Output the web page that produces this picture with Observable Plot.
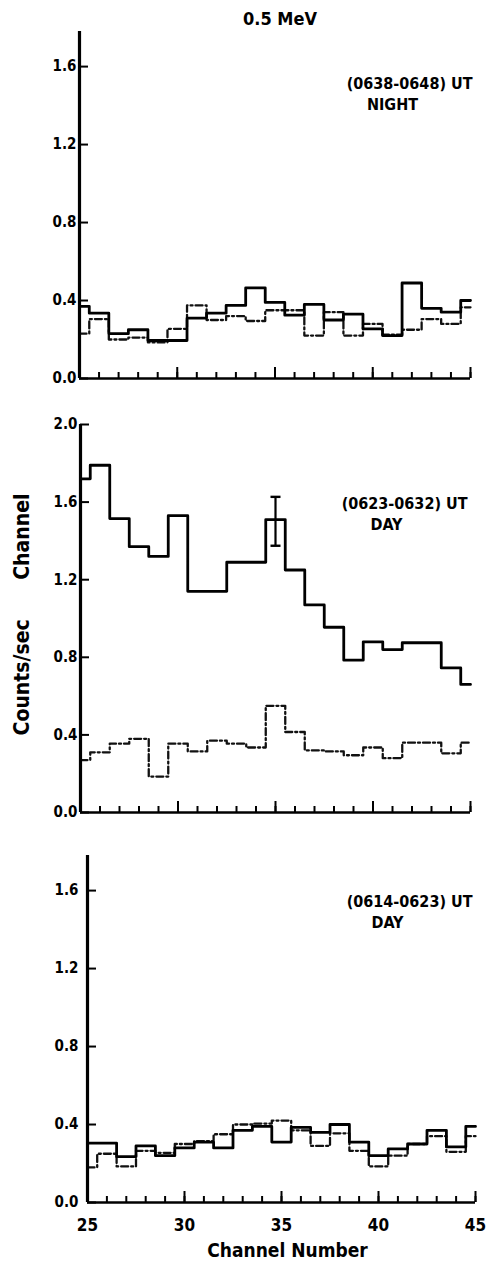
<!DOCTYPE html>
<html>
<head>
<meta charset="utf-8">
<script src="https://cdn.jsdelivr.net/npm/d3@7"></script>
<script src="https://cdn.jsdelivr.net/npm/@observablehq/plot@0.6"></script>
<style>
  body { margin: 0; background: #fff; }
  #wrap { position: relative; width: 493px; height: 1278px; overflow: hidden; background: #fff;
          font-family: "DejaVu Sans Condensed", "DejaVu Sans", sans-serif; font-weight: bold; color: #000; }
  .panel { position: absolute; left: 0; z-index: 1; }
  #title { position: absolute; left: 280px; top: 8px; transform: translateX(-50%); font-size: 18px; white-space: nowrap; z-index: 5; }
</style>
</head>
<body>
<div id="wrap"><div id="title"></div></div>
<script>
// ---- data ----
const titleText = "0.5 MeV";
const yAxisLabel = "Counts/sec\u00a0\u00a0\u00a0\u00a0\u00a0\u00a0Channel";
const xAxisLabel = "Channel Number";
const channels = [25,26,27,28,29,30,31,32,33,34,35,36,37,38,39,40,41,42,43,44,45];
const majorChannels = [30,35,40,45];
const xTickLabels = [25,30,35,40,45];
const yTicksLow = [0, 0.4, 0.8, 1.2, 1.6];
const yTicksHigh = [0, 0.4, 0.8, 1.2, 1.6, 2.0];

// panel 1: (0638-0648) UT NIGHT
const nightSolid  = [0.37,0.335,0.23,0.25,0.195,0.195,0.31,0.335,0.375,0.465,0.39,0.325,0.38,0.30,0.33,0.255,0.22,0.49,0.36,0.34,0.40];
const nightDashed = [0.23,0.305,0.20,0.21,0.185,0.255,0.375,0.30,0.32,0.295,0.35,0.35,0.22,0.34,0.22,0.28,0.225,0.25,0.305,0.28,0.365];
// panel 2: (0623-0632) UT DAY
const day1Solid  = [1.72,1.79,1.515,1.37,1.32,1.53,1.14,1.14,1.29,1.29,1.51,1.25,1.07,0.955,0.785,0.88,0.84,0.875,0.875,0.745,0.66];
const day1Dashed = [0.27,0.31,0.355,0.38,0.185,0.355,0.315,0.37,0.355,0.335,0.55,0.415,0.32,0.315,0.295,0.335,0.28,0.36,0.36,0.305,0.36];
const day1ErrorBar = [{channel: 35, low: 1.375, high: 1.627}];
// panel 3: (0614-0623) UT DAY
const day2Solid  = [0.305,0.305,0.235,0.29,0.24,0.28,0.31,0.28,0.37,0.39,0.31,0.385,0.36,0.40,0.31,0.24,0.275,0.30,0.37,0.285,0.39];
const day2Dashed = [0.18,0.25,0.185,0.265,0.255,0.30,0.315,0.35,0.40,0.405,0.42,0.37,0.29,0.355,0.265,0.185,0.24,0.30,0.34,0.26,0.34];

const notes1 = ["(0638-0648) UT", "NIGHT"];
const notes2 = ["(0623-0632) UT", "DAY"];
const notes3 = ["(0614-0623) UT", "DAY"];

// ---- drawing ----
document.getElementById("title").textContent = titleText;
const FONT = '"DejaVu Sans Condensed", "DejaVu Sans", sans-serif';
const capSymbol = {draw(ctx, size) { const r = Math.sqrt(size / Math.PI); ctx.moveTo(-r, 0); ctx.lineTo(r, 0); }};

function panel(cfg) {
  const solidData = channels.map((c, i) => ({channel: c, value: cfg.solid[i]}));
  const dashedData = channels.map((c, i) => ({channel: c, value: cfg.dashed[i]}));
  const marks = [
    Plot.line(dashedData, {x: "channel", y: "value", curve: "step", stroke: "#111", strokeWidth: 2.3, strokeDasharray: "7,3,2,3"}),
    Plot.line(solidData, {x: "channel", y: "value", curve: "step", stroke: "#000", strokeWidth: 2.8}),
    Plot.axisX({ticks: channels, tickSize: -6, text: null, strokeWidth: 2, label: null}),
    Plot.axisX({ticks: majorChannels, tickSize: -11, text: null, strokeWidth: 2, label: null}),
    Plot.axisY({ticks: cfg.yTicks, tickSize: -9, tickPadding: cfg.yPad, strokeWidth: 2, tickFormat: d3.format(".1f"),
                fontSize: 15, fontWeight: "bold", label: null}),
    Plot.ruleY([0], {stroke: "#000", strokeWidth: 2.6}),
    Plot.ruleX([25], {stroke: "#000", strokeWidth: 3.2}),
    Plot.text([cfg.notes[0]], {text: d => d, frameAnchor: "top-right", textAnchor: "end", lineAnchor: "top",
               dx: cfg.noteDx, dy: cfg.noteDy, fontSize: 16, fontWeight: "bold"}),
    Plot.text([cfg.notes[1]], {text: d => d, frameAnchor: "top-right", textAnchor: "middle", lineAnchor: "top",
               dx: cfg.subDx, dy: cfg.noteDy + 21, fontSize: 16, fontWeight: "bold"})
  ];
  if (cfg.errorBar) {
    marks.push(
      Plot.ruleX(cfg.errorBar, {x: "channel", y1: "low", y2: "high", stroke: "#000", strokeWidth: 2.2}),
      Plot.dot(cfg.errorBar, {x: "channel", y: "low", symbol: capSymbol, r: 5, stroke: "#000", strokeWidth: 2.4}),
      Plot.dot(cfg.errorBar, {x: "channel", y: "high", symbol: capSymbol, r: 5, stroke: "#000", strokeWidth: 2.4})
    );
  }
  if (cfg.yLabel) {
    marks.push(Plot.text([cfg.yLabel], {text: d => d, frameAnchor: "left", textAnchor: "middle", rotate: -90,
                                        dx: -58, dy: -4, fontSize: 21, fontWeight: "bold"}));
  }
  if (cfg.xLabels) {
    marks.push(
      Plot.axisX({ticks: cfg.xLabels, tickSize: 0, tickPadding: 16, fontSize: 17, fontWeight: "bold", label: null}),
      Plot.text([xAxisLabel], {text: d => d, frameAnchor: "bottom", dx: 6, dy: 54, fontSize: 19, fontWeight: "bold"})
    );
  }
  const svg = Plot.plot({
    width: 493, height: cfg.height,
    marginTop: cfg.mt, marginBottom: cfg.mb, marginLeft: cfg.ml, marginRight: cfg.mr,
    x: {domain: [25, 45]},
    y: {domain: [0, cfg.yMax]},
    style: {fontFamily: FONT, fontWeight: "bold", background: "transparent", color: "#000", overflow: "visible"},
    marks
  });
  svg.classList.add("panel");
  svg.style.top = cfg.top + "px";
  document.getElementById("wrap").appendChild(svg);
}

panel({top: 0, height: 395, mt: 31, mb: 17, ml: 79, mr: 23, yMax: 1.78, yTicks: yTicksLow, yPad: 12,
       solid: nightSolid, dashed: nightDashed, notes: notes1, noteDx: 2, noteDy: 46, subDx: -78});
panel({top: 395, height: 430, mt: 29, mb: 13, ml: 80, mr: 23, yMax: 2.0, yTicks: yTicksHigh, yPad: 12,
       solid: day1Solid, dashed: day1Dashed, notes: notes2, noteDx: -3, noteDy: 73, subDx: -84,
       errorBar: day1ErrorBar, yLabel: yAxisLabel});
panel({top: 825, height: 453, mt: 30, mb: 76, ml: 87, mr: 18, yMax: 1.78, yTicks: yTicksLow, yPad: 18,
       solid: day2Solid, dashed: day2Dashed, notes: notes3, noteDx: -3, noteDy: 40, subDx: -88,
       xLabels: xTickLabels});
</script>
</body>
</html>
